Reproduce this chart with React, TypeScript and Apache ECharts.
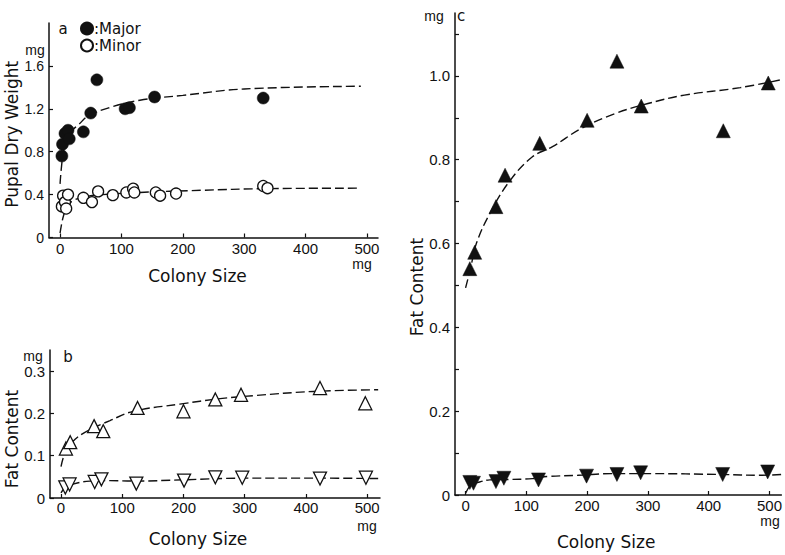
import React, { useEffect, useRef } from "react";
import * as echarts from "echarts";

// ---- data ----
const xTicks = [0, 100, 200, 300, 400, 500];
const yTicksA = [0, 0.4, 0.8, 1.2, 1.6];
const yTicksB = [0, 0.1, 0.2, 0.3];
const yTicksC = [0, 0.2, 0.4, 0.6, 0.8, 1.0];
const yMinorC = [0, 0.1, 0.2, 0.3, 0.4, 0.5, 0.6, 0.7, 0.8, 0.9, 1.0, 1.1];

// panel a: pupal dry weight
const majorA = [[3, 0.76], [4, 0.87], [8, 0.97], [13, 1.0], [15, 0.92], [38, 0.985], [50, 1.16], [60, 1.47], [106, 1.2], [113, 1.21], [154, 1.31], [331, 1.3]];
const minorA = [[3, 0.29], [5, 0.39], [8, 0.33], [10, 0.27], [13, 0.4], [38, 0.37], [52, 0.33], [62, 0.43], [86, 0.395], [108, 0.42], [119, 0.455], [121, 0.42], [156, 0.42], [163, 0.39], [189, 0.41], [331, 0.48], [338, 0.46]];
const majorFitA = [[0, 0.5], [2, 0.64], [5, 0.78], [10, 0.9], [20, 1.0], [30, 1.05], [45, 1.13], [80, 1.21], [130, 1.28], [200, 1.325], [300, 1.385], [490, 1.41]];
const minorFitA = [[0, 0.04], [3, 0.14], [6, 0.21], [10, 0.28], [20, 0.34], [40, 0.38], [70, 0.4], [130, 0.42], [230, 0.44], [330, 0.455], [490, 0.46]];

// panel b: fat content (open triangles)
const upB = [[8, 0.117], [15, 0.132], [54, 0.17], [69, 0.158], [125, 0.213], [200, 0.205], [252, 0.233], [294, 0.244], [423, 0.26], [497, 0.224]];
const downB = [[7, 0.025], [14, 0.032], [55, 0.038], [66, 0.044], [123, 0.034], [201, 0.041], [252, 0.049], [296, 0.048], [423, 0.046], [498, 0.048]];
const upFitB = [[0, 0.074], [4, 0.097], [10, 0.115], [23, 0.139], [45, 0.16], [80, 0.183], [118, 0.205], [194, 0.222], [260, 0.235], [314, 0.242], [412, 0.252], [518, 0.256]];
const downFitB = [[0, 0.012], [7, 0.025], [20, 0.033], [47, 0.04], [80, 0.041], [120, 0.04], [200, 0.043], [300, 0.047], [420, 0.047], [518, 0.046]];

// panel c: fat content (filled triangles)
const upC = [[7, 0.54], [15, 0.579], [50, 0.688], [65, 0.763], [122, 0.839], [200, 0.894], [249, 1.035], [289, 0.928], [424, 0.869], [498, 0.983]];
const downC = [[7, 0.03], [13, 0.028], [50, 0.032], [63, 0.04], [120, 0.036], [199, 0.045], [249, 0.049], [288, 0.053], [423, 0.049], [497, 0.055]];
const upFitC = [[0, 0.494], [8, 0.54], [18, 0.601], [40, 0.672], [72, 0.748], [110, 0.807], [143, 0.831], [191, 0.875], [246, 0.91], [300, 0.934], [360, 0.954], [452, 0.972], [520, 0.991]];
const downFitC = [[0, 0.004], [8, 0.022], [23, 0.031], [40, 0.036], [69, 0.037], [110, 0.039], [134, 0.044], [186, 0.047], [240, 0.051], [305, 0.051], [419, 0.049], [487, 0.047], [520, 0.049]];

const INK = "#111";
const NUM_FONT = "'Liberation Sans', Arial, sans-serif";
const TXT_FONT = "'DejaVu Sans', Verdana, sans-serif";

const fmtY = (v: number) => (v === 0 ? "0" : v.toFixed(1));

function xAxisCfg(gridIndex: number, min: number, max: number, nameGap: number, shift: number, margin: number) {
  return {
    type: "value",
    gridIndex,
    min,
    max,
    name: "Colony Size",
    nameLocation: "middle",
    nameGap,
    nameTextStyle: { fontFamily: TXT_FONT, fontSize: 17, color: INK, padding: [0, shift * 2, 0, 0] },
    axisLine: { show: true, onZero: false, lineStyle: { color: INK, width: 1.5 } },
    axisTick: { show: true, inside: true, length: 4, customValues: xTicks, lineStyle: { color: INK, width: 1.2 } },
    axisLabel: { customValues: xTicks, fontFamily: NUM_FONT, fontSize: 15, color: INK, margin, lineHeight: 13 },
    splitLine: { show: false },
  };
}

function yAxisCfg(gridIndex: number, max: number, name: string, nameGap: number, shift: number, labels: number[], ticks: number[], fontSize: number) {
  return {
    type: "value",
    gridIndex,
    min: 0,
    max,
    name,
    nameLocation: "middle",
    nameGap,
    nameTextStyle: { fontFamily: TXT_FONT, fontSize: 17, color: INK, padding: [0, shift * 2, 0, 0] },
    axisLine: { show: true, onZero: false, lineStyle: { color: INK, width: 1.5 } },
    axisTick: { show: true, inside: true, length: 4, customValues: ticks, lineStyle: { color: INK, width: 1.2 } },
    axisLabel: { customValues: labels, fontFamily: NUM_FONT, fontSize, color: INK, margin: 5, formatter: fmtY },
    splitLine: { show: false },
  };
}

function fitLine(name: string, idx: number, data: number[][]) {
  return {
    name,
    type: "line",
    xAxisIndex: idx,
    yAxisIndex: idx,
    data,
    smooth: 0.4,
    symbol: "none",
    silent: true,
    z: 1,
    lineStyle: { color: INK, width: 1.4, type: [9, 4] },
  };
}

function scatter(name: string, idx: number, data: number[][], symbol: string, size: number, filled: boolean, rotate = 0) {
  return {
    name,
    type: "scatter",
    xAxisIndex: idx,
    yAxisIndex: idx,
    data,
    symbol,
    symbolSize: size,
    symbolRotate: rotate,
    z: 3,
    itemStyle: filled
      ? { color: INK, borderColor: INK, borderWidth: 0.5, opacity: 1 }
      : { color: "#fff", borderColor: INK, borderWidth: 1.3, opacity: 1 },
  };
}

function label(text: string, x: number, y: number, size: number, font = TXT_FONT) {
  return {
    type: "text",
    x,
    y,
    silent: true,
    style: { text, fontSize: size, fontFamily: font, fill: INK, align: "center", verticalAlign: "middle", lineHeight: size },
  };
}

export default function App() {
  const ref = useRef<HTMLDivElement>(null);
  useEffect(() => {
    if (!ref.current) return;
    const chart = echarts.init(ref.current, undefined, { renderer: "svg" });
    chart.setOption({
      animation: false,
      backgroundColor: "#fff",
      grid: [
        { left: 49, top: 23, width: 329, height: 214.5 },
        { left: 50, top: 350, width: 330, height: 148 },
        { left: 455, top: 13, width: 330, height: 483 },
      ],
      xAxis: [
        xAxisCfg(0, -18, 518, 30, 16, 4),
        xAxisCfg(1, -18, 521, 32, 17, 3),
        xAxisCfg(2, -17.4, 519.6, 38, 12, 4),
      ],
      yAxis: [
        yAxisCfg(0, 2.0, "Pupal Dry Weight", 24, 4, yTicksA, yTicksA, 14),
        yAxisCfg(1, 0.35, "Fat Content", 24, 15, yTicksB, yTicksB, 15),
        yAxisCfg(2, 1.15, "Fat Content", 30, 33, yTicksC, yMinorC, 15),
      ],
      legend: {
        data: ["Major", "Minor"],
        orient: "vertical",
        left: 80,
        top: 21,
        itemWidth: 12,
        itemHeight: 12,
        itemGap: 2,
        padding: 0,
        formatter: ":{name}",
        textStyle: { fontFamily: TXT_FONT, fontSize: 15, color: INK, lineHeight: 12, padding: [0, 0, 0, -4] },
      },
      graphic: [
        label("a", 63, 29, 15),
        label("mg", 35, 50, 14, NUM_FONT),
        label("mg", 362, 264, 14, NUM_FONT),
        label("b", 68, 357, 15),
        label("mg", 33, 356, 14, NUM_FONT),
        label("mg", 367, 526, 14, NUM_FONT),
        label("c", 461, 16, 15),
        label("mg", 434, 16, 14, NUM_FONT),
        label("mg", 770, 521, 14, NUM_FONT),
      ],
      series: [
        fitLine("Major fit", 0, majorFitA),
        fitLine("Minor fit", 0, minorFitA),
        scatter("Major", 0, majorA, "circle", 12, true),
        scatter("Minor", 0, minorA, "circle", 11, false),
        fitLine("Fat fit (b, upper)", 1, upFitB),
        fitLine("Fat fit (b, lower)", 1, downFitB),
        scatter("Fat b ▲", 1, upB, "triangle", 13, false),
        scatter("Fat b ▼", 1, downB, "triangle", 13, false, 180),
        fitLine("Fat fit (c, upper)", 2, upFitC),
        fitLine("Fat fit (c, lower)", 2, downFitC),
        scatter("Fat c ▲", 2, upC, "triangle", 14, true),
        scatter("Fat c ▼", 2, downC, "triangle", 14, true, 180),
      ],
    });
    return () => chart.dispose();
  }, []);
  return <div ref={ref} style={{ position: "fixed", left: 0, top: 0, width: 785, height: 555 }} />;
}
